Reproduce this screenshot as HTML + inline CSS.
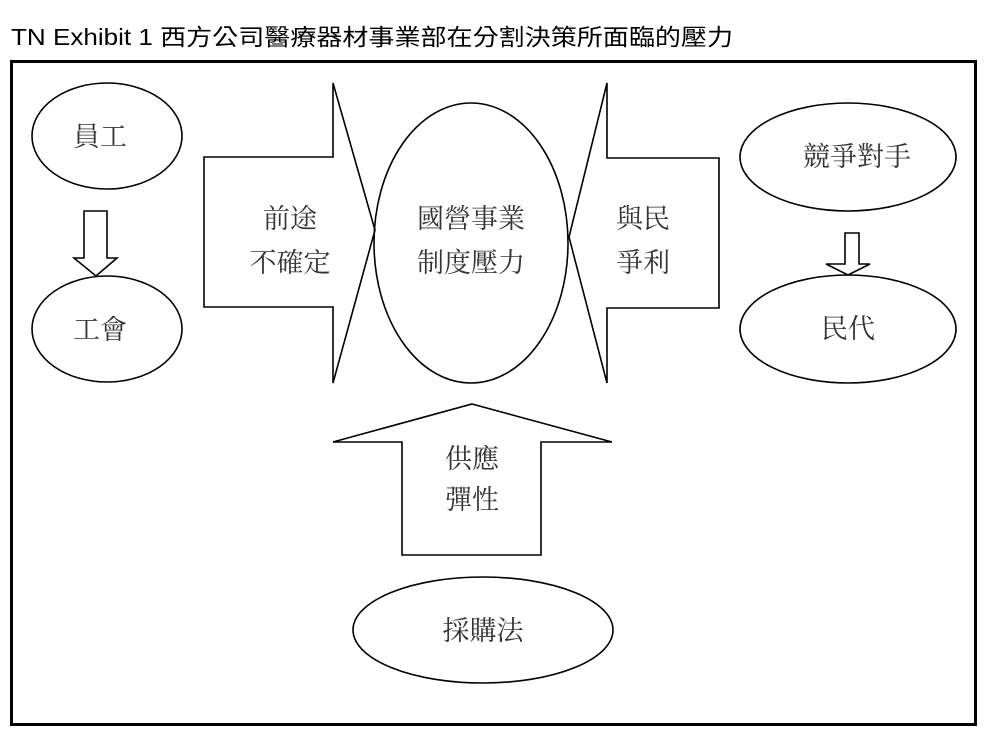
<!DOCTYPE html>
<html><head><meta charset="utf-8"><style>
html,body{margin:0;padding:0;background:#fff;}
svg{display:block;}
.t{font-family:"Liberation Serif","Noto Serif CJK SC","Noto Sans CJK TC",serif;font-size:27px;fill:#333;text-anchor:middle;}
</style></head><body>
<svg width="1000" height="743" viewBox="0 0 1000 743" xmlns="http://www.w3.org/2000/svg">
<text x="11" y="45" font-family="Liberation Sans, Noto Sans CJK TC, sans-serif" font-size="23" fill="#000" textLength="722" lengthAdjust="spacingAndGlyphs">TN Exhibit 1 西方公司醫療器材事業部在分割決策所面臨的壓力</text>
<rect x="11.5" y="61.5" width="964" height="663" fill="none" stroke="#000" stroke-width="3"/>
<g fill="none" stroke="#000" stroke-width="1.6">
<ellipse cx="107" cy="136" rx="75" ry="53"/>
<ellipse cx="107" cy="329" rx="75" ry="53"/>
<polygon points="84,211 107,211 107,258 117,258 96,276 74,258 84,258"/>
<polygon points="204,157 333,157 333,83 375,230 333,383 333,307 204,307"/>
<ellipse cx="471" cy="243" rx="97" ry="140"/>
<polygon points="719,158 607,158 607,83 569,237 607,383 607,308 719,308"/>
<ellipse cx="848" cy="157" rx="108" ry="54"/>
<ellipse cx="848" cy="329" rx="108" ry="54"/>
<polygon points="845,233 859,233 859,264 870,264 848,275 826,264 845,264"/>
<polygon points="472,404 612,442 541,442 541,555 402,555 402,442 333,442"/>
<ellipse cx="483" cy="630" rx="130" ry="53"/>
</g>
<text class="t" x="100" y="146">員工</text>
<text class="t" x="100" y="339">工會</text>
<text class="t" x="290" y="228">前途</text>
<text class="t" x="290" y="272">不確定</text>
<text class="t" x="471" y="228">國營事業</text>
<text class="t" x="471" y="272">制度壓力</text>
<text class="t" x="643" y="228">與民</text>
<text class="t" x="643" y="272">爭利</text>
<text class="t" x="857" y="166">競爭對手</text>
<text class="t" x="848" y="338">民代</text>
<text class="t" x="472" y="468">供應</text>
<text class="t" x="472" y="509">彈性</text>
<text class="t" x="483" y="640">採購法</text>
</svg>
</body></html>
